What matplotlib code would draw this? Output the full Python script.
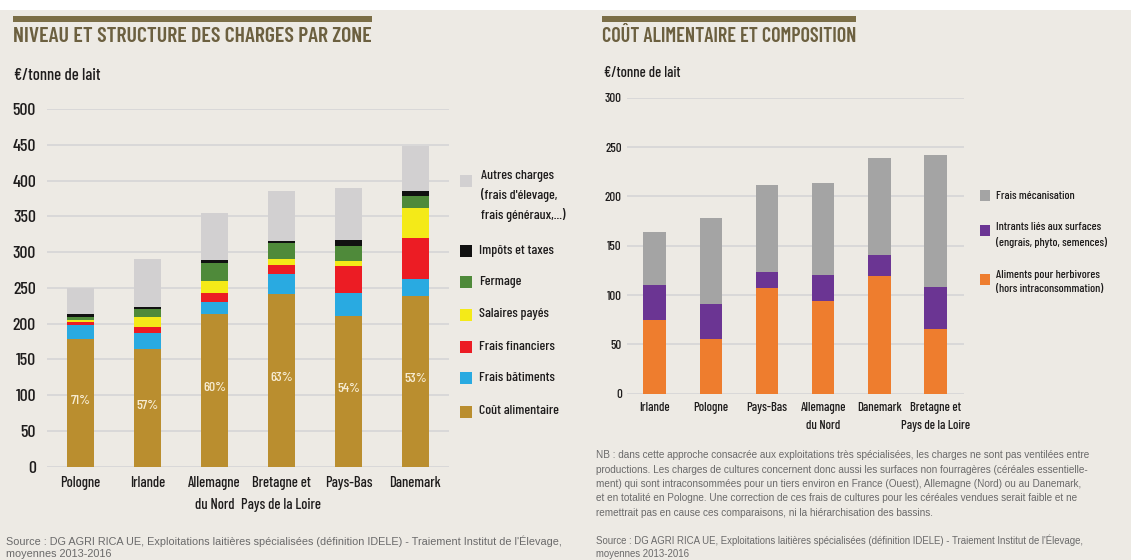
import matplotlib
matplotlib.use('Agg')
import matplotlib.pyplot as plt
from matplotlib import font_manager as fm
from matplotlib.patches import Rectangle
import numpy as np

# --- données : niveau et structure des charges (€/t de lait)
zones_g = ['Pologne', 'Irlande', 'Allemagne\ndu Nord', 'Bretagne et\nPays de la Loire', 'Pays-Bas', 'Danemark']
cout_alim = [178, 165, 214, 242, 211, 238]
frais_bat = [20, 22, 16, 28, 32, 25]
frais_fin = [4, 8, 13, 12, 37, 57]
salaires = [3, 14, 16, 9, 8, 42]
fermage = [4, 12, 26, 21, 20, 17]
impots = [4, 2, 4, 4, 9, 6]
autres = [37, 68, 66, 69, 73, 63]
part_alim = ['71%', '57%', '60%', '63%', '54%', '53%']
noms_g = ['Coût alimentaire', 'Frais bâtiments', 'Frais financiers', 'Salaires payés',
          'Fermage', 'Impôts et taxes', "Autres charges\n(frais d'élevage,\nfrais généraux,...)"]
yticks_g = [0, 50, 100, 150, 200, 250, 300, 350, 400, 450, 500]

# --- données : coût alimentaire et composition
zones_d = ['Irlande', 'Pologne', 'Pays-Bas', 'Allemagne\ndu Nord', 'Danemark', 'Bretagne et\nPays de la Loire']
aliments = [75, 55, 107, 94, 119, 66]
intrants = [35, 36, 16, 26, 22, 42]
mecanisation = [54, 87, 89, 94, 98, 134]
noms_d = ['Aliments pour herbivores\n(hors intraconsommation)',
          'Intrants liés aux surfaces\n(engrais, phyto, semences)', 'Frais mécanisation']
yticks_d = [0, 50, 100, 150, 200, 250, 300]

source = ("Source : DG AGRI RICA UE, Exploitations laitières spécialisées (définition IDELE) - "
          "Traiement Institut de l'Élevage,\nmoyennes 2013-2016")
nb = ["NB : dans cette approche consacrée aux exploitations très spécialisées, les charges ne sont pas ventilées entre",
      "productions. Les charges de cultures concernent donc aussi les surfaces non fourragères (céréales essentielle-",
      "ment) qui sont intraconsommées pour un tiers environ en France (Ouest), Allemagne (Nord) ou au Danemark,",
      "et en totalité en Pologne. Une correction de ces frais de cultures pour les céréales vendues serait faible et ne",
      "remettrait pas en cause ces comparaisons, ni la hiérarchisation des bassins."]

# --- style
BG = '#EDEAE4'
TITLE_C = '#6C6040'
GRID_C = '#D7D7D7'
TXT = '#1E1C1C'
GREY_TXT = '#6A6A6A'
cols_g = ['#BA8E2F', '#29AAE1', '#EC1C24', '#F4EA18', '#4F8A3A', '#111111', '#D2D0D1']
cols_d = ['#EE7D2E', '#6B3593', '#A4A4A4']

# police étroite (proche du Futura Condensed de l'original)
dispo = {f.name for f in fm.fontManager.ttflist}
COND = 'DejaVu Sans'
for nom in ['Barlow Condensed', 'Roboto Condensed', 'Oswald', 'Antonio', 'Archivo Narrow',
            'PT Sans Narrow', 'Fjalla One']:
    if nom in dispo:
        COND = nom
        break
plt.rcParams['font.family'] = [COND, 'DejaVu Sans']
plt.rcParams['font.weight'] = 'medium'
PLAIN = ['Liberation Sans', 'DejaVu Sans']

W, H = 1131, 560
fig = plt.figure(figsize=(W / 100, H / 100), dpi=100)
fig.patch.set_facecolor(BG)
rend = fig.canvas.get_renderer()


def fx(px):
    return px / W


def fy(py):
    return 1 - py / H


def fit(textes, cible, maxi=None, pas=None):
    # ajuste la taille pour que le texte le plus large fasse `cible` pixels
    larg = max(t.get_window_extent(rend).width for t in textes)
    taille = textes[0].get_fontsize() * cible / larg
    if maxi:
        taille = min(taille, maxi)
    for t in textes:
        t.set_fontsize(taille)
        if pas:
            t.set_linespacing(pas / (0.95 * taille * 100 / 72))
    return taille


fig.add_artist(Rectangle((0, fy(10)), 1, 10 / H, transform=fig.transFigure,
                         facecolor='white', edgecolor='none', zorder=0))


def titre(x0, x1, texte):
    fig.add_artist(Rectangle((fx(x0), fy(21.5)), fx(x1) - fx(x0), 6 / H,
                             transform=fig.transFigure, facecolor='#7B6E47', edgecolor='none'))
    t = fig.text(fx(x0), fy(37), texte, fontsize=14, fontweight='semibold', color=TITLE_C,
                 ha='left', va='center')
    fit([t], x1 - x0, 19)


def style_axes(ax, ticks, cible, maxi, pad):
    ax.set_facecolor('none')
    for s in ax.spines.values():
        s.set_visible(False)
    ax.set_yticks(ticks)
    labs = ax.set_yticklabels([str(v) for v in ticks])
    fit(labs, cible, maxi)
    ax.yaxis.grid(True, color=GRID_C, lw=1.3)
    ax.set_axisbelow(True)
    ax.tick_params(axis='both', length=0, colors=TXT)
    ax.tick_params(axis='y', pad=pad)


# ---------------- graphique de gauche
titre(13.5, 371.6, 'NIVEAU ET STRUCTURE DES CHARGES PAR ZONE')
t = fig.text(fx(14), fy(76), '€/tonne de lait', fontsize=13, color=TXT, ha='left', va='center')
fit([t], 86, 15)

axL = fig.add_axes([fx(47), fy(466.7), fx(449) - fx(47), (466.7 - 109) / H])
x = np.arange(len(zones_g))
bas = np.zeros(len(x))
for vals, c in zip([cout_alim, frais_bat, frais_fin, salaires, fermage, impots, autres], cols_g):
    axL.bar(x, vals, 0.41, bottom=bas, color=c, zorder=3)
    bas += np.array(vals)
pcts = [axL.text(x[i], cout_alim[i] * 0.5 + 3, p, ha='center', va='center',
                 color='#F7ECD2', fontsize=10.5, zorder=4) for i, p in enumerate(part_alim)]
fit(pcts, 23, 13)
axL.set_xlim(-0.5, 5.5)
axL.set_ylim(0, 500)
style_axes(axL, yticks_g, 24, 16, 8)
axL.set_xticks(x)
labs = axL.set_xticklabels(zones_g, fontsize=10.5)
fit(labs, 80, 13, pas=23)
axL.tick_params(axis='x', pad=7)

# légende gauche
leg_y = [411.5, 378, 346.5, 314.5, 282, 251, 181]
legs = []
for nom, c, yy in zip(noms_g, cols_g, leg_y):
    fig.add_artist(Rectangle((fx(460), fy(yy + 6)), 11.6 / W, 12 / H,
                             transform=fig.transFigure, facecolor=c, edgecolor='none'))
    if '\n' in nom:
        legs.append(fig.text(fx(481), fy(yy - 10.5), nom, fontsize=10, color=TXT, ha='left', va='top'))
    else:
        legs.append(fig.text(fx(479), fy(yy), nom, fontsize=10, color=TXT, ha='left', va='center'))
fit(legs[:1], 80, 13)
for t in legs[1:]:
    t.set_fontsize(legs[0].get_fontsize())
legs[-1].set_linespacing(20 / (0.95 * legs[0].get_fontsize() * 100 / 72))

t = fig.text(fx(6.5), fy(547.5), source, fontsize=7.6, color=GREY_TXT, ha='left', va='center',
             family=PLAIN, weight='normal', linespacing=1.3)
fit([t], 552)

# ---------------- graphique de droite
titre(601.5, 856, 'COÛT ALIMENTAIRE ET COMPOSITION')
t = fig.text(fx(604.5), fy(73), '€/tonne de lait', fontsize=11.5, color=TXT, ha='left', va='center')
fit([t], 76, 13)

axR = fig.add_axes([fx(627.2), fy(393.7), fx(963.6) - fx(627.2), 296 / H])
x = np.arange(len(zones_d))
bas = np.zeros(len(x))
for vals, c in zip([aliments, intrants, mecanisation], cols_d):
    axR.bar(x, vals, 0.4, bottom=bas, color=c, zorder=3)
    bas += np.array(vals)
axR.set_xlim(-0.49, 5.5)
axR.set_ylim(0, 300)
style_axes(axR, yticks_d, 17, 12, 4)
axR.set_xticks(x)
labs = axR.set_xticklabels(zones_d, fontsize=9.5)
fit(labs, 70, 12, pas=20)
axR.tick_params(axis='x', pad=6)

leg_yd = [279, 230.7, 196]
legs = []
for nom, c, yy in zip(noms_d, cols_d, leg_yd):
    fig.add_artist(Rectangle((fx(980.4), fy(yy + 5.5)), 10 / W, 11 / H,
                             transform=fig.transFigure, facecolor=c, edgecolor='none'))
    if '\n' in nom:
        legs.append(fig.text(fx(995.8), fy(yy - 9), nom, fontsize=8.3, color=TXT, ha='left', va='top'))
    else:
        legs.append(fig.text(fx(995.8), fy(yy), nom, fontsize=8.3, color=TXT, ha='left', va='center'))
fit(legs, 112, 11, pas=17.5)

t = fig.text(fx(595.8), fy(484), '\n'.join(nb), fontsize=6.8, color=GREY_TXT, ha='left', va='center',
             family=PLAIN, weight='normal', linespacing=1.55)
fit([t], 496)
t = fig.text(fx(595.8), fy(547), source, fontsize=6.8, color=GREY_TXT, ha='left', va='center',
             family=PLAIN, weight='normal', linespacing=1.4)
fit([t], 494)

fig.savefig('out.png', dpi=100, facecolor=BG)
